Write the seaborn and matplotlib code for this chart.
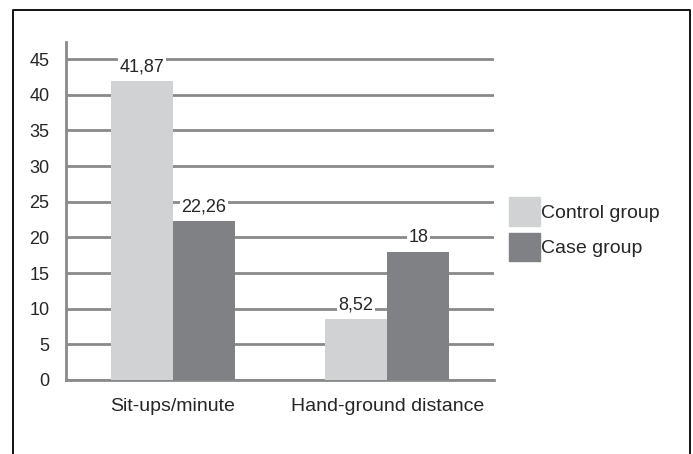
import pandas as pd
import matplotlib.pyplot as plt
import seaborn as sns
from matplotlib.lines import Line2D

sns.set_style("white")
plt.rcParams['font.family'] = ['Liberation Sans', 'DejaVu Sans']

categories = ['Sit-ups/minute', 'Hand-ground distance']
groups = ['Control group', 'Case group']
control_vals = [41.87, 8.52]
case_vals = [22.26, 18]
control_labels = ['41,87', '8,52']
case_labels = ['22,26', '18']
yticks = [0, 5, 10, 15, 20, 25, 30, 35, 40, 45]

df = pd.DataFrame({
    'measure': categories * 2,
    'group': [groups[0]] * 2 + [groups[1]] * 2,
    'value': control_vals + case_vals,
})

fig = plt.figure(figsize=(6.93, 4.54), dpi=100)
ax = fig.add_axes([0.0952, 0.163, 0.618, 0.7445])

sns.barplot(data=df, x='measure', y='value', hue='group', order=categories,
            hue_order=groups, palette=['#d1d2d4', '#808184'], width=0.58,
            saturation=1, ax=ax, legend=False, linewidth=0, zorder=3)

ax.set_ylim(0, 47.4)
ax.set_xlim(-0.5, 1.5)
ax.set_yticks(yticks)
ax.yaxis.grid(True, color='#8a8a8a', linewidth=2, zorder=0)
ax.set_axisbelow(True)
ax.tick_params(axis='y', length=8, width=1.5, color='#8a8a8a', labelsize=13, pad=4)
ax.tick_params(axis='x', length=0, labelsize=14, pad=13)
ax.set_xticks([-0.5, 0.5, 1.5], minor=True)
ax.tick_params(axis='x', which='minor', length=8, width=1.5, color='#8a8a8a', direction='out')
ax.set_xlabel('')
ax.set_ylabel('')
for s in ['top', 'right']:
    ax.spines[s].set_visible(False)
for s in ['left', 'bottom']:
    ax.spines[s].set_color('#8a8a8a')
    ax.spines[s].set_linewidth(2)

for cont, labels in zip(ax.containers, [control_labels, case_labels]):
    ax.bar_label(cont, labels=labels, padding=4, fontsize=13,
                 bbox=dict(facecolor='white', edgecolor='none', pad=1))

handles = [plt.Rectangle((0, 0), 1, 1, color=c) for c in ['#d1d2d4', '#808184']]
fig.legend(handles, groups, loc='upper left', bbox_to_anchor=(0.7345, 0.566),
           frameon=False, fontsize=14, handlelength=1.6, handleheight=1.9,
           handletextpad=0.05, labelspacing=0.35, borderaxespad=0, borderpad=0)

# outer frame (bottom edge is cut off in the original)
fig.add_artist(Line2D([0.019, 0.019, 0.996, 0.996], [0.0, 0.978, 0.978, 0.0],
                      transform=fig.transFigure, color='black', linewidth=1.3))

fig.savefig('out.png', dpi=100)
